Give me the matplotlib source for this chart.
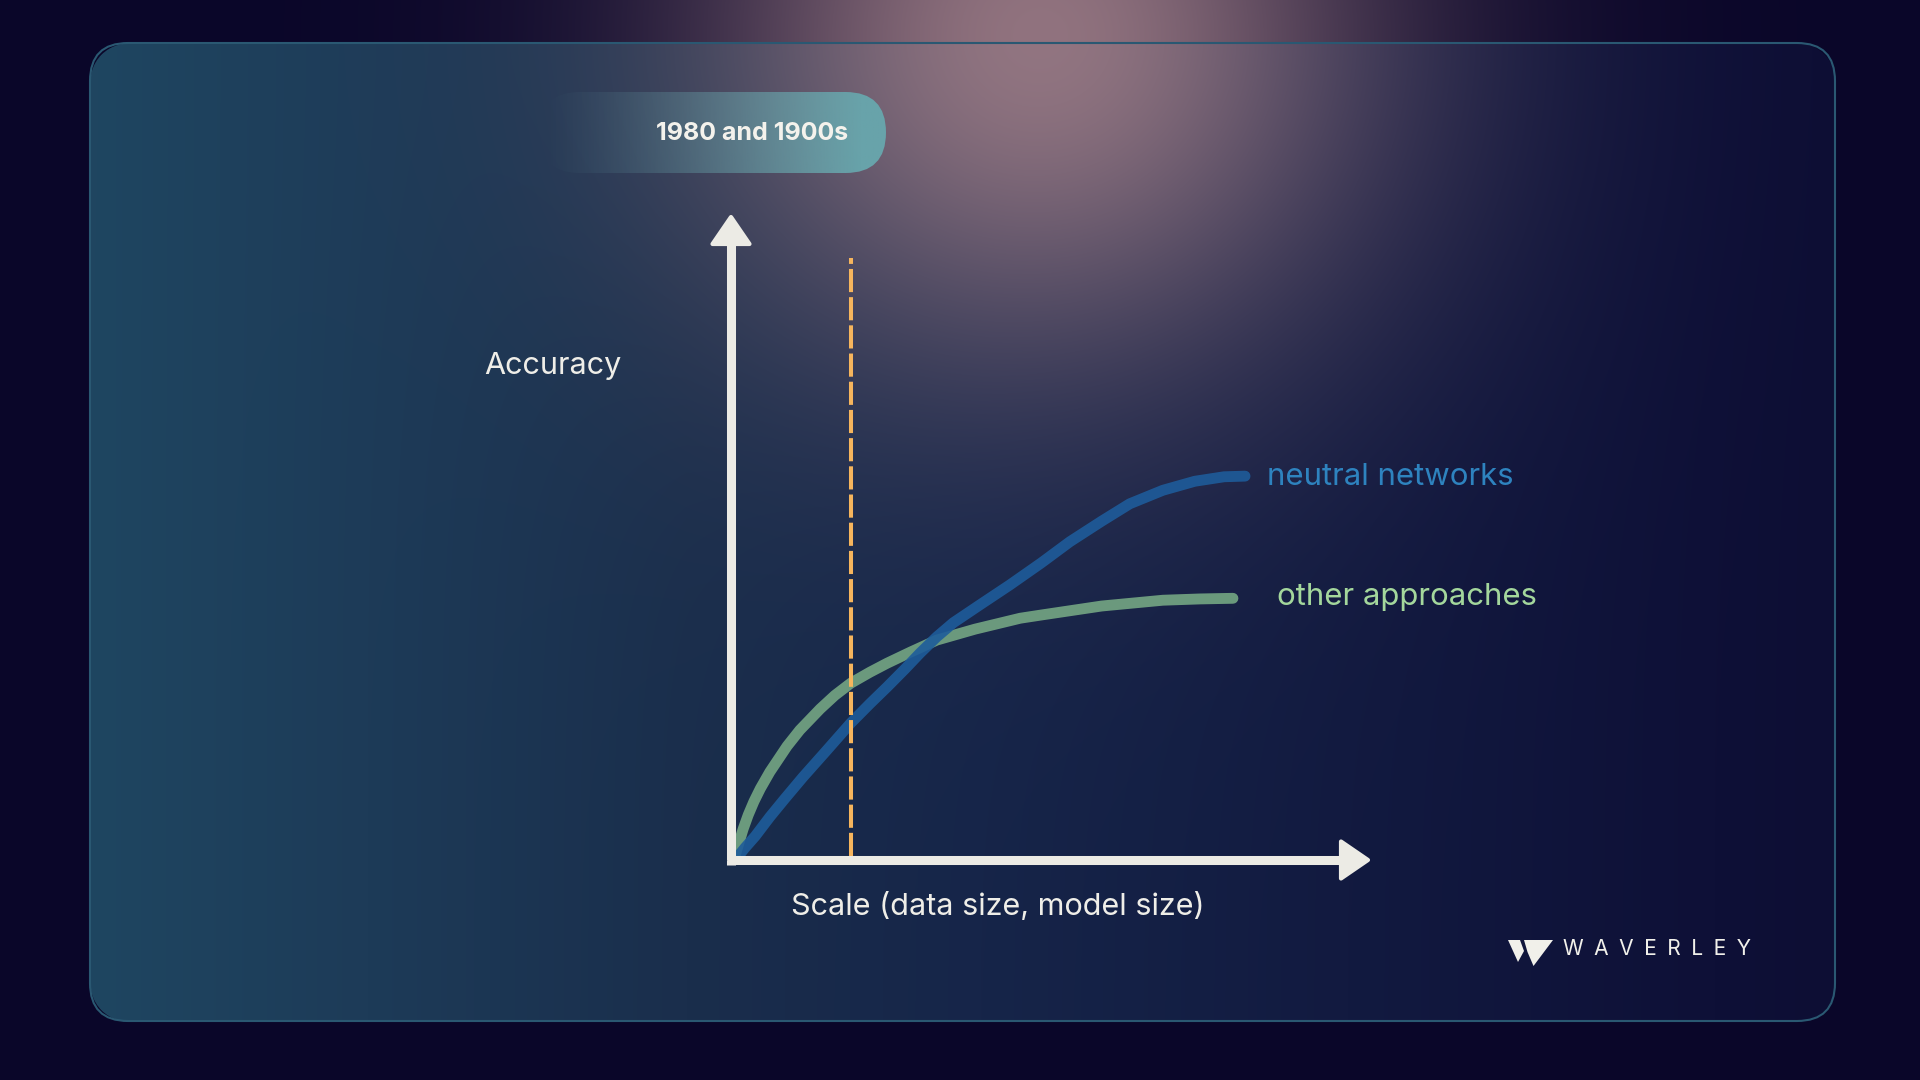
import numpy as np
import matplotlib
matplotlib.use("Agg")
import matplotlib.pyplot as plt
from matplotlib.patches import FancyBboxPatch, Polygon

# ---------------- data ----------------
scale_other = [0.6, 1.2, 1.9, 2.7, 3.6, 4.6, 6.1, 8.8, 10.8, 14.0, 16.3, 18.8, 21.8,
               24.5, 28.1, 32.3, 38.3, 45.4, 48.7, 58.2, 67.8, 73.6, 78.8]
acc_other   = [0.5, 2.5, 4.8, 7.0, 9.1, 11.1, 13.7, 17.7, 20.2, 23.5, 25.6, 27.5, 29.2,
               30.6, 32.3, 34.2, 35.9, 37.6, 38.1, 39.5, 40.4, 40.6, 40.7]
scale_nn = [0.9, 2.2, 3.8, 6.1, 8.5, 11.3, 14.8, 18.8, 21.8, 24.5, 27.3, 29.7, 32.3,
            34.9, 39.1, 43.8, 48.7, 53.2, 58.2, 62.6, 67.8, 72.8, 77.4, 80.7]
acc_nn   = [0.3, 1.9, 3.7, 6.7, 9.6, 12.9, 16.8, 21.3, 24.3, 26.9, 29.7, 32.2, 34.7,
            36.9, 39.7, 42.8, 46.2, 49.5, 52.7, 55.4, 57.5, 58.9, 59.6, 59.7]
era_scale = 18.8
era_top = 93.7
era_label = "1980 and 1900s"
x_label = "Scale (data size, model size)"
y_label = "Accuracy"
series_labels = ["neutral networks", "other approaches"]
brand = "WAVERLEY"

plt.rcParams['font.family'] = ['Inter', 'DejaVu Sans']

W, H = 1920, 1080
fig = plt.figure(figsize=(19.2, 10.8), dpi=100)

# ---------------- background ----------------
bg = fig.add_axes([0, 0, 1, 1])
bg.set_xlim(0, W); bg.set_ylim(H, 0); bg.axis('off')

yy, xx = np.mgrid[0:H, 0:W].astype(float)
outer = np.array([10, 6, 41]) / 255.0
img = np.ones((H, W, 3)) * outer

cx0, cy0, cx1, cy1, rad = 90, 43, 1835, 1021, 38
qx = np.maximum(np.maximum(cx0 + rad - xx, xx - (cx1 - rad)), 0)
qy = np.maximum(np.maximum(cy0 + rad - yy, yy - (cy1 - rad)), 0)
d = np.sqrt(qx**2 + qy**2) - rad
mask = np.clip(0.5 - d, 0, 1)[..., None]

stops_x = [90, 367, 686, 980, 1347, 1714, 1835]
stops_c = np.array([[31, 70, 97], [29, 59, 88], [26, 46, 76], [22, 37, 73],
                    [18, 26, 64], [14, 16, 55], [13, 14, 52]]) / 255.0
card = np.stack([np.interp(xx[0], stops_x, stops_c[:, k]) for k in range(3)], -1)
card = np.broadcast_to(card[None, :, :], (H, W, 3))
img = img * (1 - mask) + card * mask

pink = np.array([155, 123, 133]) / 255.0
dist2 = ((xx - 1040) / 1.05) ** 2 + (yy - 35) ** 2
a = (0.93 * np.exp(-dist2 / (2 * 230.0 ** 2)))[..., None]
img = img * (1 - a) + pink * a
bg.imshow(img, extent=[0, W, H, 0], interpolation='bilinear', zorder=0)

border = FancyBboxPatch((cx0, cy0), cx1 - cx0, cy1 - cy0,
                        boxstyle=f"round,pad=0,rounding_size={rad}",
                        fc='none', ec='#2a5872', lw=1.5, zorder=1)
bg.add_patch(border)

# era pill
px0, py0, px1, py1 = 539, 92, 886, 173
pill = FancyBboxPatch((px0, py0), px1 - px0, py1 - py0,
                      boxstyle=f"round,pad=0,rounding_size={(py1 - py0) / 2}",
                      fc='none', ec='none', zorder=2)
bg.add_patch(pill)
gx = np.linspace(px0, px1, 400)
alpha = np.clip((gx - 540) / 320.0, 0, 1) ** 1.3
rgba = np.zeros((2, 400, 4))
rgba[..., :3] = np.array([104, 163, 170]) / 255.0
rgba[..., 3] = alpha[None, :]
pim = bg.imshow(rgba, extent=[px0, px1, py1, py0], interpolation='bilinear', zorder=2)
pim.set_clip_path(pill)
bg.text(752, 133, era_label, color='#f4f2ec', fontsize=18, fontweight='bold',
        ha='center', va='center', zorder=3)

# labels
fs = 22
bg.text(553, 366, y_label, color='#efeee8', fontsize=fs, ha='center', va='center')
bg.text(998, 907, x_label, color='#efeee8', fontsize=fs, ha='center', va='center')
bg.text(1267, 477, series_labels[0], color='#2e83bf', fontsize=22.4, ha='left', va='center')
bg.text(1277, 597, series_labels[1], color='#a4d79c', fontsize=22.4, ha='left', va='center')

# brand logo
logo_a = [(1508, 940), (1520, 940), (1524, 951), (1518, 962)]
logo_b = [(1524, 940), (1553, 940), (1533.5, 966), (1527.5, 952)]
for poly in (logo_a, logo_b):
    bg.add_patch(Polygon(poly, closed=True, fc='#f1f0ea', ec='none', zorder=3))
bg.text(1563, 949, "\u2002".join(brand), color='#f1f0ea', fontsize=15.1,
        ha='left', va='center', zorder=3)

# ---------------- chart ----------------
ox, oy, tx, ty = 731, 860, 1368, 217
ax = fig.add_axes([ox / W, (H - oy) / H, (tx - ox) / W, (oy - ty) / H])
ax.set_xlim(0, 100); ax.set_ylim(0, 100)
ax.axis('off')
ax.patch.set_alpha(0)

dxp = 100.0 / (tx - ox)
dyp = 100.0 / (oy - ty)
axis_col = '#ecebe5'
head_len, head_half = 27, 18.5

ax.plot([0, 0], [0, 100 - head_len * dyp + 1], color=axis_col, lw=6.5,
        solid_capstyle='butt', zorder=4, clip_on=False)
ax.plot([-4.5 * dxp, 100 - head_len * dxp + 1], [0, 0], color=axis_col, lw=6.5,
        solid_capstyle='butt', zorder=4, clip_on=False)
ax.plot([0, 0], [-4.5 * dyp, 0], color=axis_col, lw=6.5, solid_capstyle='butt',
        zorder=4, clip_on=False)
ax.add_patch(Polygon([(0, 100), (-head_half * dxp, 100 - head_len * dyp),
                      (head_half * dxp, 100 - head_len * dyp)], closed=True,
                     fc=axis_col, ec=axis_col, lw=3, joinstyle='round', zorder=4, clip_on=False))
ax.add_patch(Polygon([(100, 0), (100 - head_len * dxp, -head_half * dyp),
                      (100 - head_len * dxp, head_half * dyp)], closed=True,
                     fc=axis_col, ec=axis_col, lw=3, joinstyle='round', zorder=4, clip_on=False))

ax.plot([era_scale, era_scale], [0.6, era_top], color='#f6b55d', lw=2.9,
        dashes=(5.75, 1.25), zorder=3)

ax.plot(scale_other, acc_other, color='#6e9e7f', lw=7.8, solid_capstyle='round',
        solid_joinstyle='round', zorder=2, alpha=0.97)
ax.plot(scale_nn, acc_nn, color='#1e5c9a', lw=7.8, solid_capstyle='round',
        solid_joinstyle='round', zorder=2.5, alpha=0.9)

fig.savefig('out.png', dpi=100)
